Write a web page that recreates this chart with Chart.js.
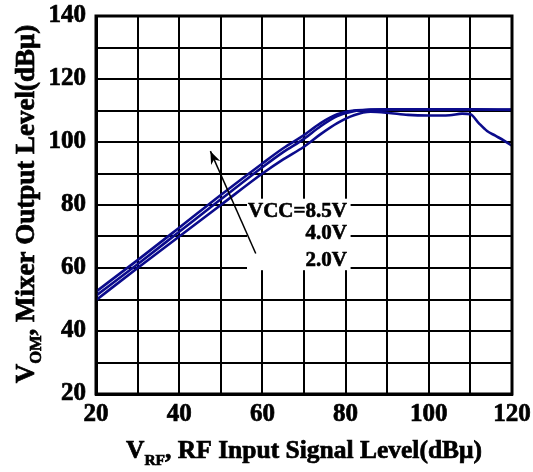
<!DOCTYPE html>
<html>
<head>
<meta charset="utf-8">
<script src="https://cdn.jsdelivr.net/npm/chart.js@4.4.1/dist/chart.umd.min.js"></script>
<style>
  html, body { margin: 0; padding: 0; background: #fff; }
  #c { display: block; }
</style>
</head>
<body>
<canvas id="c" width="533" height="472"></canvas>
<script>
// ---- data ----
const seriesLabels = ["VCC=8.5V", "4.0V", "2.0V"];
const x85 = [20, 30, 40, 50, 60, 65, 70, 74, 78, 82, 86, 90, 100, 110, 120];
const y85 = [52.5, 62.5, 72.8, 83.2, 93.2, 98, 102.2, 106, 108.8, 110, 110.3, 110.4, 110.4, 110.4, 110.3];
const x40 = [20, 30, 40, 50, 60, 65, 70, 74, 78, 82, 86, 90, 100, 110, 120];
const y40 = [51.2, 61.2, 71.5, 81.8, 92, 96.8, 101, 105, 108.2, 109.8, 110.2, 110.3, 110.3, 110.3, 110.2];
const x20 = [20, 30, 40, 50, 60, 65, 70, 74, 78, 82, 86, 90, 95, 100, 105, 108, 110, 112, 114, 116, 118, 120];
const y20 = [49.8, 60, 70, 80, 90, 94.5, 98.5, 102.5, 106, 108.5, 109.6, 109.3, 108.6, 108.4, 108.5, 109, 108.8, 106, 103.5, 102, 100.5, 98.8];
const xTicks = [20, 40, 60, 80, 100, 120];
const yTicks = [20, 40, 60, 80, 100, 120, 140];
const xRange = [20, 120];
const yRange = [20, 140];

const toPts = (xs, ys) => xs.map((x, i) => ({ x: x, y: ys[i] }));

const FONT = "'Liberation Serif', 'Times New Roman', serif";
const LINE_COLOR = '#0b0b8c';

function drawRich(ctx, parts, x, y, align) {
  let total = 0;
  parts.forEach(p => { ctx.font = 'bold ' + p.size + 'px ' + FONT; p.w = ctx.measureText(p.t).width; total += p.w; });
  let cx = align === 'center' ? x - total / 2 : x;
  ctx.textAlign = 'left';
  ctx.textBaseline = 'alphabetic';
  ctx.lineWidth = 0.7;
  ctx.strokeStyle = '#000';
  parts.forEach(p => {
    ctx.font = 'bold ' + p.size + 'px ' + FONT;
    ctx.fillText(p.t, cx, y + (p.dy || 0));
    ctx.strokeText(p.t, cx, y + (p.dy || 0));
    cx += p.w;
  });
}

const decor = {
  id: 'decor',
  afterDatasetsDraw(chart) {
    const ctx = chart.ctx, xs = chart.scales.x, ys = chart.scales.y;
    const px = v => xs.getPixelForValue(v), py = v => ys.getPixelForValue(v);
    ctx.save();
    // white label box
    ctx.fillStyle = '#fff';
    const bx0 = px(56.3), bx1 = px(81.2), by0 = py(82), by1 = py(59.3);
    ctx.fillRect(bx0, by0, bx1 - bx0, by1 - by0);
    // labels
    ctx.fillStyle = '#000';
    ctx.strokeStyle = '#000';
    ctx.lineWidth = 0.6;
    ctx.font = 'bold 21px ' + FONT;
    ctx.textAlign = 'right';
    ctx.textBaseline = 'middle';
    const lab = [[0, 78.0], [1, 71.0], [2, 62.4]];
    lab.forEach(([i, yv]) => {
      ctx.fillText(seriesLabels[i], px(80.3), py(yv));
      ctx.strokeText(seriesLabels[i], px(80.3), py(yv));
    });
    // arrow
    const tx = px(47.5), ty = py(97.1), sx = px(58.4), sy = py(64.6);
    ctx.lineWidth = 1.5;
    ctx.beginPath(); ctx.moveTo(sx, sy); ctx.lineTo(tx, ty); ctx.stroke();
    const ang = Math.atan2(ty - sy, tx - sx);
    const L = 13, W = 5;
    ctx.beginPath();
    ctx.moveTo(tx, ty);
    ctx.lineTo(tx - L * Math.cos(ang) + W * Math.sin(ang), ty - L * Math.sin(ang) - W * Math.cos(ang));
    ctx.lineTo(tx - L * 0.7 * Math.cos(ang), ty - L * 0.7 * Math.sin(ang));
    ctx.lineTo(tx - L * Math.cos(ang) - W * Math.sin(ang), ty - L * Math.sin(ang) + W * Math.cos(ang));
    ctx.closePath();
    ctx.fill();
    ctx.restore();
  },
  afterDraw(chart) {
    const ctx = chart.ctx, a = chart.chartArea;
    ctx.save();
    ctx.strokeStyle = '#000';
    ctx.lineWidth = 3;
    ctx.strokeRect(a.left, a.top, a.right - a.left, a.bottom - a.top);
    ctx.fillStyle = '#000';
    // x title
    drawRich(ctx, [
      { t: 'V', size: 25.5 },
      { t: 'RF', size: 15.5, dy: 7 },
      { t: ', RF Input Signal Level(dB\u03BC)', size: 25.5 }
    ], (a.left + a.right) / 2, 458, 'center');
    // y title
    ctx.translate(34, 204);
    ctx.rotate(-Math.PI / 2);
    drawRich(ctx, [
      { t: 'V', size: 27 },
      { t: 'OM', size: 16.5, dy: 7 },
      { t: ', Mixer Output Level(dB\u03BC)', size: 27 }
    ], 0, 0, 'center');
    ctx.restore();
  }
};

new Chart(document.getElementById('c'), {
  type: 'line',
  data: {
    datasets: [
      { label: seriesLabels[0], data: toPts(x85, y85) },
      { label: seriesLabels[1], data: toPts(x40, y40) },
      { label: seriesLabels[2], data: toPts(x20, y20) }
    ].map(d => Object.assign(d, {
      borderColor: LINE_COLOR, borderWidth: 2.6, pointRadius: 0,
      fill: false, cubicInterpolationMode: 'monotone'
    }))
  },
  options: {
    responsive: false,
    animation: false,
    devicePixelRatio: 1,
    layout: { padding: { top: 16, right: 21, left: 0, bottom: 0 } },
    plugins: { legend: { display: false }, tooltip: { enabled: false } },
    scales: {
      x: {
        type: 'linear', min: xRange[0], max: xRange[1],
        ticks: {
          stepSize: 10, autoSkip: false, maxRotation: 0, padding: 0,
          color: '#000', font: { family: FONT, size: 25, weight: 'bold', lineHeight: 1.65 },
          textStrokeColor: '#000', textStrokeWidth: 0.7,
          callback: v => xTicks.includes(v) ? String(v) : ''
        },
        grid: { color: '#000', lineWidth: 2, drawTicks: false },
        border: { color: '#000', width: 3 },
        afterFit: s => { s.height = 78; }
      },
      y: {
        type: 'linear', min: yRange[0], max: yRange[1],
        ticks: {
          stepSize: 10, autoSkip: false, padding: 10,
          color: '#000', font: { family: FONT, size: 25, weight: 'bold', lineHeight: 0.4 },
          textStrokeColor: '#000', textStrokeWidth: 0.7,
          callback: v => yTicks.includes(v) ? String(v) : ''
        },
        grid: { color: '#000', lineWidth: 2, drawTicks: false },
        border: { color: '#000', width: 3 },
        afterFit: s => { s.width = 96; }
      }
    }
  },
  plugins: [decor]
});
</script>
</body>
</html>
